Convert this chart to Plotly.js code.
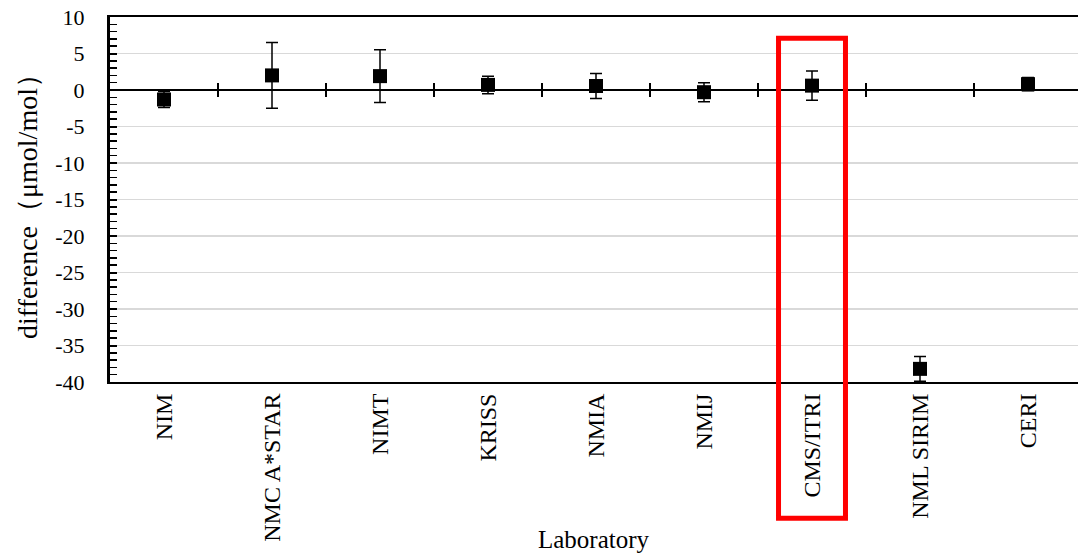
<!DOCTYPE html>
<html>
<head>
<meta charset="utf-8">
<script src="https://cdn.plot.ly/plotly-3.0.1.min.js"></script>
<style>html,body{margin:0;padding:0;background:#fff;}#chart{width:1078px;height:557px;}</style>
</head>
<body>
<div id="chart"></div>
<script>
const categories = ["NIM", "NMC A*STAR", "NIMT", "KRISS", "NMIA", "NMIJ", "CMS/ITRI", "NML SIRIM", "CERI"];
const difference = [-1.3, 2.0, 1.9, 0.7, 0.55, -0.3, 0.6, -38.2, 0.8];
const uncertainty = [1.1, 4.5, 3.6, 1.2, 1.7, 1.3, 2.0, 1.7, 0.9];
const highlighted = "CMS/ITRI";
const yTickLabels = ["10", "5", "0", "-5", "-10", "-15", "-20", "-25", "-30", "-35", "-40"];

const serif = "'Liberation Serif', 'Times New Roman', serif";
const xRange = [-0.5, 8.463];
const boundaries = categories.slice(1).map((_, i) => i + 0.5);
const hi = categories.indexOf(highlighted);

const trace = {
  type: "scatter",
  mode: "markers",
  x: categories,
  y: difference,
  marker: {symbol: "square", size: 14, color: "#000"},
  error_y: {type: "data", array: uncertainty, visible: true, color: "#000", thickness: 1.5, width: 6},
  showlegend: false,
  hoverinfo: "x+y"
};
// empty traces so that the category-boundary tick axes are drawn
const axisHolder = (xa) => ({type: "scatter", mode: "none", x: [], y: [], xaxis: xa, yaxis: "y", showlegend: false, hoverinfo: "skip"});

const boundaryAxis = (ticks) => ({
  overlaying: "x",
  anchor: "free",
  position: 0.8,
  range: xRange,
  tickmode: "array",
  tickvals: boundaries,
  ticks: ticks,
  ticklen: 6,
  tickwidth: 2,
  tickcolor: "#000",
  showticklabels: false,
  showgrid: false,
  zeroline: false,
  showline: true,
  linecolor: "#000",
  linewidth: 2
});

const layout = {
  width: 1078,
  height: 557,
  margin: {l: 110, r: 0, t: 17, b: 175},
  paper_bgcolor: "#fff",
  plot_bgcolor: "#fff",
  font: {family: serif, color: "#000", size: 20},
  xaxis: {
    type: "category",
    categoryorder: "array",
    categoryarray: categories,
    range: xRange,
    showgrid: false,
    zeroline: false,
    showline: true,
    mirror: true,
    linecolor: "#000",
    linewidth: 2,
    ticks: "",
    tickangle: -90,
    tickfont: {family: serif, size: 24, color: "#000"},
    automargin: false
  },
  xaxis2: boundaryAxis("outside"),
  xaxis3: boundaryAxis("inside"),
  yaxis: {
    range: [-40, 10],
    tickmode: "array",
    tickvals: yTickLabels.map(Number),
    ticktext: yTickLabels,
    ticks: "inside",
    ticklen: 7,
    tickwidth: 2,
    tickcolor: "#000",
    minor: {dtick: 1, ticks: "inside", ticklen: 7, tickwidth: 1.5, tickcolor: "#000", showgrid: false},
    showgrid: true,
    gridcolor: "#d9d9d9",
    gridwidth: 1.5,
    zeroline: true,
    zerolinecolor: "#000",
    zerolinewidth: 2,
    showline: true,
    linecolor: "#000",
    linewidth: 3,
    ticklabelstandoff: 18,
    tickfont: {family: serif, size: 22, color: "#000"},
    title: {text: "difference（μmol/mol）", font: {family: serif, size: 28, color: "#000"}, standoff: 10},
    automargin: false
  },
  shapes: [{
    type: "rect",
    xref: "x",
    yref: "paper",
    x0: hi - 0.31,
    x1: hi + 0.31,
    y0: -0.373,
    y1: 0.942,
    line: {color: "#ff0000", width: 5},
    fillcolor: "rgba(0,0,0,0)"
  }],
  annotations: [{
    text: "Laboratory",
    xref: "paper",
    yref: "paper",
    x: 0.5,
    y: -0.432,
    xanchor: "center",
    yanchor: "middle",
    showarrow: false,
    font: {family: serif, size: 25, color: "#000"}
  }]
};

Plotly.newPlot("chart", [trace, axisHolder("x2"), axisHolder("x3")], layout, {displayModeBar: false, staticPlot: true});
</script>
</body>
</html>
